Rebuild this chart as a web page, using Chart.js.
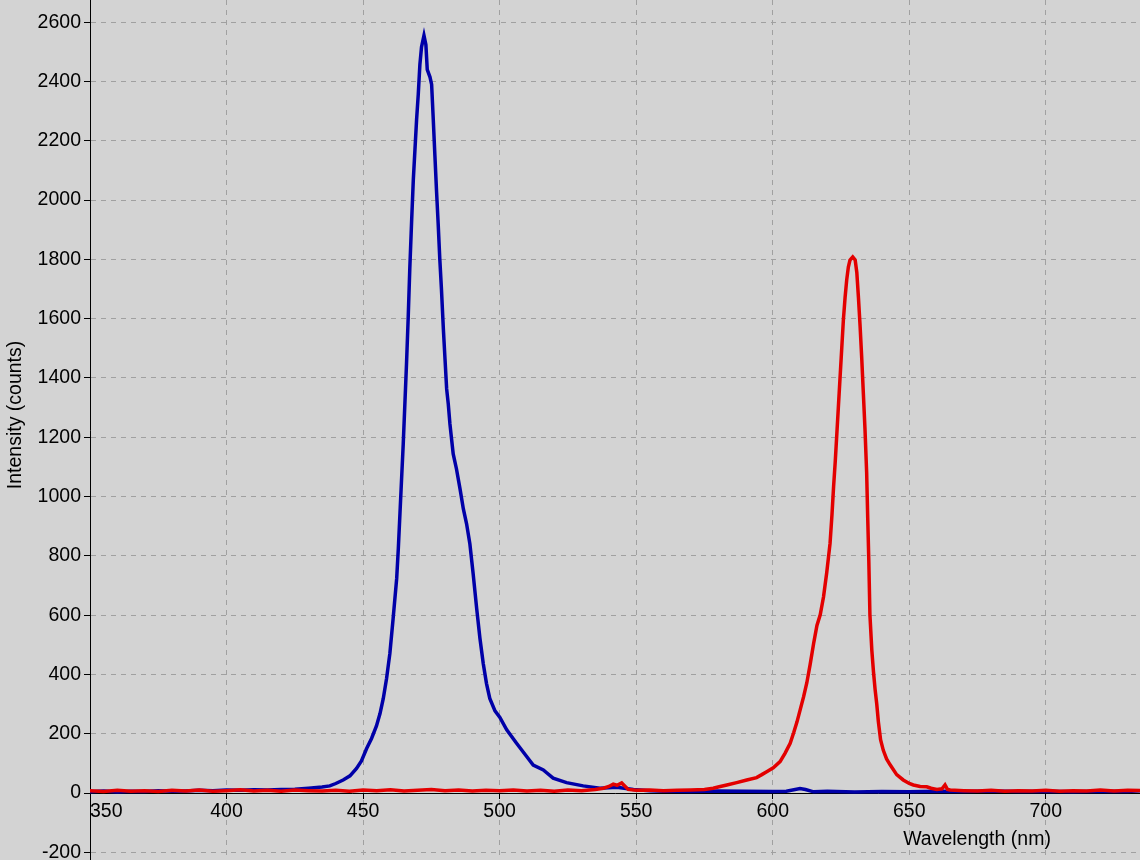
<!DOCTYPE html>
<html>
<head>
<meta charset="utf-8">
<script src="https://cdn.jsdelivr.net/npm/chart.js@4.4.0/dist/chart.umd.min.js"></script>
<style>
  html, body { margin: 0; padding: 0; background: #d3d3d3; }
  #wrap { width: 1140px; height: 860px; position: relative; }
  canvas { display: block; }
</style>
</head>
<body>
<div id="wrap"><canvas id="c" width="1140" height="860"></canvas></div>
<script>
// ---- data ----
const blueWavelength = [
  345,350,355,360,365,370,375,380,385,390,
  395,400,405,410,415,420,425,430,435,437.8,
  440,442.7,445.2,447.6,449.4,451.3,453.1,454.9,456.2,457.4,
  458.6,459.8,461.0,462.3,462.9,463.5,464.1,464.7,465.3,465.9,
  466.5,467.1,467.8,468.4,469.0,469.6,470.2,470.8,471.4,472.3,
  473.0,473.5,474.5,475.1,475.7,476.3,476.9,477.5,478.1,478.7,
  479.4,480.0,480.6,481.2,481.8,482.4,483.0,484.2,485.5,486.7,
  487.9,489.1,490.3,491.6,492.8,494.0,495.2,496.4,498.3,500.1,
  502.6,506.2,509.9,512.3,516.0,517.0,519.6,524.5,530.6,536.7,
  542.9,549,555,560,570,580,590,600,605,610,
  612,615,620,630,640,650,660,670,680,690,
  700,710,720,730,736
];
const blueIntensity = [
  5,4,7,3,6,5,8,6,7,9,
  8,10,9,11,10,12,13,16,20,24,
  32,44,58,83,108,150,184,226,268,319,
  386,470,588,723,824,942,1060,1177,1312,1447,
  1598,1767,1935,2070,2171,2272,2356,2457,2516,2555,
  2524,2440,2415,2390,2272,2150,2030,1920,1800,1699,
  1565,1464,1363,1312,1245,1194,1144,1093,1026,959,
  908,841,740,622,521,437,369,319,277,255,
  213,168,123,94,78,70,50,35,24,16,
  19,12,8,6,5,7,6,5,6,15,
  12,4,6,3,5,4,6,5,7,5,
  6,4,6,5,8
];
const redWavelength = [
  345,350,355,360,365,370,375,380,385,390,
  395,400,405,410,415,420,425,430,435,440,
  445,450,455,460,465,470,475,480,485,490,
  495,500,505,510,515,520,525,530,535,538,
  540,541.6,543,544.7,546,547.1,550,555,560,565,
  570,575,578.2,580,583.2,586.8,590.5,594.1,596,597.8,
  600.2,602.7,604.5,606.4,607.7,608.9,610.1,611.3,612.5,613.7,
  615.0,616.2,617.4,618.6,619.8,621.0,621.7,622.3,622.9,623.5,
  624.1,624.7,625.3,625.9,626.5,627.1,627.7,628.3,629.3,630.2,
  630.8,631.4,632.0,632.6,633.2,633.8,634.4,634.8,635.2,635.6,
  636.3,636.9,637.5,638.1,638.7,639.5,640.5,641.7,643.0,645.4,
  647.8,650,651.5,654,656.4,658,660.1,662,663.1,664,
  665,670,675,680,685,690,695,700,705,710,
  715,720,725,730,736
];
const redIntensity = [
  6,8,5,9,6,8,5,9,7,10,
  6,8,11,7,9,6,10,8,7,9,
  6,10,8,11,7,9,12,8,10,7,
  9,8,10,7,9,6,10,8,12,16,
  22,30,26,34,22,12,9,10,8,9,
  10,12,16,20,27,35,44,52,62,72,
  85,106,134,168,204,240,282,324,372,433,
  505,565,601,661,745,842,938,1034,1118,1214,
  1311,1407,1503,1599,1671,1731,1774,1798,1808,1798,
  1756,1671,1575,1467,1347,1226,1082,926,781,601,
  481,409,349,300,240,180,144,115,95,62,
  44,32,27,22,21,16,12,14,27,12,
  10,8,7,9,6,8,7,9,6,8,
  7,10,7,9,8
];
const xTickValues = [350,400,450,500,550,600,650,700];
const yTickValues = [-200,0,200,400,600,800,1000,1200,1400,1600,1800,2000,2200,2400,2600];
const xTitle = 'Wavelength (nm)';
const yTitle = 'Intensity (counts)';
const X_MIN = 350, X_MAX = 734.5, Y_MIN = -226, Y_MAX = 2675;

const FONT = { family: "'Liberation Sans', Arial, sans-serif", size: 19.5 };
const GRID = '#a0a0a0';

function pairs(xs, ys) { return xs.map((x, i) => ({ x: x, y: ys[i] })); }

const titlePlugin = {
  id: 'axisTitles',
  afterDraw(chart) {
    const ctx = chart.ctx;
    ctx.save();
    ctx.fillStyle = '#000';
    ctx.font = FONT.size + 'px ' + FONT.family;
    ctx.textAlign = 'center';
    ctx.textBaseline = 'middle';
    ctx.fillText(xTitle, 977, 840);
    ctx.translate(16, 415);
    ctx.rotate(-Math.PI / 2);
    ctx.fillText(yTitle, 0, 0);
    ctx.restore();
  }
};

new Chart(document.getElementById('c'), {
  type: 'line',
  data: {
    datasets: [
      { label: 'red', data: pairs(redWavelength, redIntensity), borderColor: '#e30000', borderWidth: 3.5, pointRadius: 0, tension: 0, fill: false },
      { label: 'blue', data: pairs(blueWavelength, blueIntensity), borderColor: '#0000a8', borderWidth: 3.5, pointRadius: 0, tension: 0, fill: false }
    ]
  },
  options: {
    responsive: false,
    animation: false,
    devicePixelRatio: 1,
    layout: { padding: 0 },
    plugins: { legend: { display: false }, tooltip: { enabled: false } },
    scales: {
      x: {
        type: 'linear',
        position: { y: 0 },
        min: X_MIN, max: X_MAX,
        afterBuildTicks: (s) => { s.ticks = xTickValues.map(v => ({ value: v })).concat([{ value: X_MAX }]); },
        afterFit: (s) => { s.paddingLeft = 0; s.paddingRight = 0; s.paddingTop = 0; s.paddingBottom = 0; },
        ticks: {
          align: 'inner', color: '#000', font: FONT, padding: 2, maxRotation: 0, autoSkip: false,
          callback: (v) => (xTickValues.includes(v) ? String(v) : '')
        },
        grid: {
          color: (c) => (c.tick && c.tick.value > 700 ? 'rgba(0,0,0,0)' : GRID),
          tickColor: (c) => (c.tick && c.tick.value > 700 ? 'rgba(0,0,0,0)' : '#000'),
          tickBorderDash: [], tickLength: 5, lineWidth: 1
        },
        border: { display: true, color: '#000', width: 1, dash: [5, 5] },
        title: { display: false }
      },
      y: {
        type: 'linear',
        position: 'left',
        min: Y_MIN, max: Y_MAX,
        afterBuildTicks: (s) => { s.ticks = yTickValues.map(v => ({ value: v })); },
        afterFit: (s) => { s.width = 90; s.paddingTop = 0; s.paddingBottom = 0; s.paddingLeft = 0; s.paddingRight = 0; },
        ticks: { color: '#000', font: FONT, padding: 3, autoSkip: false, callback: (v) => String(v) },
        grid: { color: GRID, tickColor: '#000', tickBorderDash: [], tickLength: 6, lineWidth: 1 },
        border: { display: true, color: '#000', width: 1, dash: [5, 5] },
        title: { display: false }
      }
    }
  },
  plugins: [titlePlugin]
});
</script>
</body>
</html>
